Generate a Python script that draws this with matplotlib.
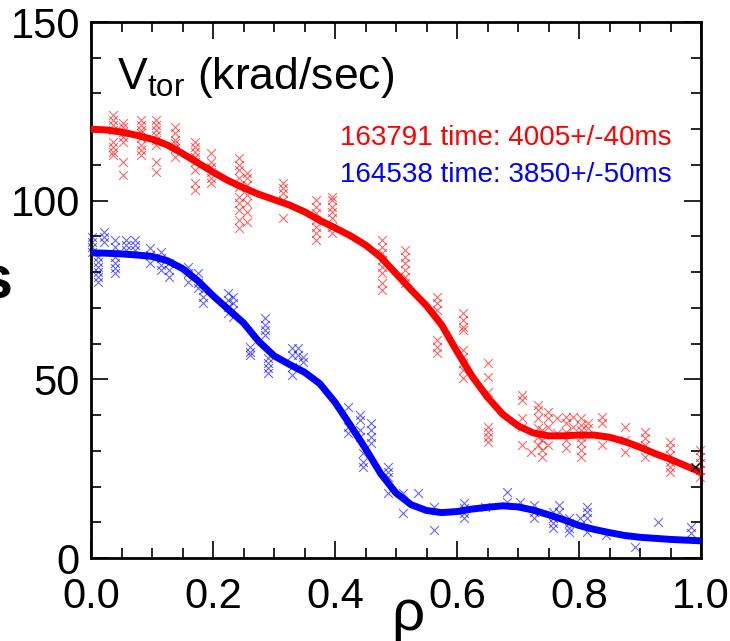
import matplotlib
matplotlib.use("Agg")
import matplotlib.pyplot as plt
from matplotlib.ticker import MultipleLocator, FormatStrFormatter

plt.rcParams['font.family'] = ['Liberation Sans', 'DejaVu Sans']
plt.rcParams['mathtext.fontset'] = 'custom'
plt.rcParams['mathtext.rm'] = 'Liberation Sans'
plt.rcParams['mathtext.it'] = 'Liberation Sans'

# fitted profiles
rho_fit = [0.0, 0.025, 0.05, 0.075, 0.1, 0.125, 0.15, 0.175, 0.2, 0.225,
           0.25, 0.275, 0.3, 0.325, 0.35, 0.375, 0.4, 0.425, 0.45, 0.475,
           0.5, 0.525, 0.55, 0.575, 0.6, 0.625, 0.65, 0.675, 0.7, 0.725,
           0.75, 0.775, 0.8, 0.825, 0.85, 0.875, 0.9, 0.925, 0.95, 0.975, 1.0]
red_fit = [120.0, 119.8, 119.2, 118.3, 117.2, 115.6, 113.2, 110.6, 108.0, 105.6,
           103.6, 101.8, 100.3, 98.8, 96.9, 94.5, 92.4, 90.2, 87.6, 84.2,
           79.6, 75.0, 70.6, 65.2, 57.8, 50.8, 45.0, 40.2, 37.0, 35.0,
           34.2, 34.2, 34.4, 34.4, 33.8, 32.6, 31.0, 29.2, 27.6, 25.8, 24.0]
blue_fit = [85.4, 85.3, 85.1, 84.8, 84.4, 83.2, 81.0, 77.6, 73.4, 69.6,
            65.8, 60.6, 56.6, 54.2, 52.0, 48.8, 43.6, 37.2, 30.6, 23.6,
            18.2, 14.9, 13.3, 12.7, 13.0, 13.7, 14.2, 14.6, 14.3, 13.4,
            12.1, 10.7, 9.1, 8.0, 7.1, 6.3, 5.8, 5.5, 5.2, 5.0, 4.8]

# measured points, grouped by radial channel
red_rho = [0.036, 0.052, 0.082, 0.107, 0.138, 0.170, 0.197, 0.243, 0.256, 0.315,
           0.369, 0.395, 0.477, 0.515, 0.567, 0.61, 0.651, 0.706, 0.722, 0.733,
           0.739, 0.749, 0.764, 0.779, 0.790, 0.803, 0.815, 0.838, 0.875, 0.908,
           0.949, 0.998]
red_v = [[124, 122.6, 121.2, 119.8, 116.4, 115, 113.6, 112.8],
         [121.7, 120.6, 119.2, 117.8, 116.4, 110.8, 107.2],
         [122.6, 121.2, 119.8, 118.9, 117.5, 115.6, 114.2, 112.8],
         [122.6, 121.2, 119.8, 118.4, 117, 115.6, 110.8, 108],
         [120.6, 118.9, 117, 116.1, 114.7, 112.2],
         [116.4, 115, 113.6, 112.2, 110.8, 108.6, 105, 103],
         [113.3, 110.8, 109.4, 108, 106.4, 105],
         [112, 110, 108.6, 106.4, 103.8, 101, 99.4, 97.4, 94.6, 92.4],
         [107.8, 106.4, 104.4, 101.6, 99.4, 96.8, 94],
         [105, 103.6, 102.2, 100.2, 95.2],
         [100.2, 98.2, 96.6, 94.6, 92.6, 91, 89],
         [101, 100.2, 98.2, 96.8, 95.2, 92.6, 91],
         [89, 87, 85.4, 83.4, 81.4, 79.8, 77, 75],
         [86.2, 84.2, 82.6, 80.6, 78.6, 77],
         [73, 71.4, 69.4, 61, 59, 57.4],
         [68.6, 66.6, 64.6, 63.8, 58.2, 56.2, 54.6, 52.6, 50.4],
         [54.6, 50.7, 46.5, 36.7, 35.3, 33.9, 32.5],
         [45.6, 44.2, 39.2, 36.7, 31.6],
         [29.7],
         [42.8, 41.4, 39.2, 36.4, 33.9, 31.6],
         [35.8, 33, 30.2, 28.3],
         [40.9, 39.2, 36.7, 31.6],
         [39.2, 35],
         [39.5, 37.8, 35.3, 33, 30.8],
         [39.5, 36.7],
         [39.2, 37.2, 35.8, 33.9, 32.2, 30.2, 28.3],
         [37.8, 36.4],
         [39.5, 37.8, 31.6],
         [36.7, 33, 29.7],
         [35.3, 33.6, 31.6, 28.3],
         [32.5, 30.8, 28.8, 26.9, 25.5, 24.1],
         [30.2, 28.3, 26.6, 24.6, 22.7]]

blue_rho = [0.002, 0.011, 0.021, 0.039, 0.057, 0.072, 0.097, 0.115, 0.128, 0.159,
            0.175, 0.184, 0.225, 0.233, 0.261, 0.285, 0.290, 0.330, 0.339, 0.348,
            0.421, 0.441, 0.446, 0.459, 0.487, 0.511, 0.536, 0.562, 0.611, 0.646,
            0.682, 0.703, 0.726, 0.757, 0.767, 0.784, 0.802, 0.813, 0.844, 0.892,
            0.930, 0.983]
blue_v = [[89.8, 88.4, 87, 85.6],
          [84.2, 82.8, 81.4, 80, 78.6, 77.2],
          [91.2, 89.8, 88.4],
          [89, 87, 84.2, 82.6, 81.2, 79.8],
          [89, 87.6, 86.2],
          [89, 87.6, 86.2],
          [86.8, 84.8, 82.6],
          [85.6, 84, 82, 80.6],
          [82.6, 80.6, 78.6],
          [81.4, 79.8, 77.2],
          [79.8, 77, 75.6],
          [75, 73, 71.4],
          [74.2, 72.2, 70.2, 68.6],
          [73, 71.4, 69.4, 67.4],
          [59, 57.7, 56.8],
          [67.2, 65.2, 63.8, 62.4],
          [56, 54.6, 53.2, 51.8],
          [58.8, 56.8, 53.5, 51.2],
          [58.8, 56.8],
          [56.3, 54.9],
          [42.3, 36.7, 35],
          [40, 38.6, 35.8, 33.9],
          [29.4, 26.9, 25.5],
          [37.8, 35.8, 33.9, 32.2],
          [25.5, 24.1, 22.7, 18.2],
          [18.2, 12.6],
          [18.2],
          [14.3, 7.8],
          [15.4, 14, 12.6, 11.2],
          [14.3],
          [18.5, 15.7],
          [15.7],
          [14.8, 12.9, 11.2],
          [12.9, 11.2, 9.8, 8.4],
          [14.8, 12.9],
          [11.2, 9.8, 8.4, 7.3],
          [11.2],
          [14.3, 12.9, 11.2, 7.3],
          [6.4],
          [3.1],
          [10],
          [8.7, 7]]

odd_rho = [0.99]
odd_v = [25.5]

labels = ['163791 time: 4005+/-40ms', '164538 time: 3850+/-50ms']


def flatten(rhos, vals):
    xs, ys = [], []
    for r, vs in zip(rhos, vals):
        for v in vs:
            xs.append(r)
            ys.append(v)
    return xs, ys


fig = plt.figure(figsize=(7.3, 6.41), dpi=100)
ax = fig.add_axes([91/730, 1 - 558/641, 610/730, 536/641])

rx, ry = flatten(red_rho, red_v)
bx, by = flatten(blue_rho, blue_v)
ax.scatter(rx, ry, marker='x', s=40, linewidths=0.8, color='red', alpha=0.6, clip_on=False, zorder=2)
ax.scatter(bx, by, marker='x', s=40, linewidths=0.8, color='blue', alpha=0.6, clip_on=False, zorder=2)
ax.scatter(odd_rho, odd_v, marker='x', s=35, linewidths=1.0, color='black', clip_on=False, zorder=4)

ax.plot(rho_fit, red_fit, color='red', lw=5, zorder=3)
ax.plot(rho_fit, blue_fit, color='blue', lw=5, zorder=3)

ax.set_xlim(0, 1)
ax.set_ylim(0, 150)
ax.xaxis.set_major_locator(MultipleLocator(0.2))
ax.xaxis.set_minor_locator(MultipleLocator(0.05))
ax.yaxis.set_major_locator(MultipleLocator(50))
ax.yaxis.set_minor_locator(MultipleLocator(10))
ax.xaxis.set_major_formatter(FormatStrFormatter('%.1f'))
ax.tick_params(which='both', direction='in', top=True, right=True, width=1.2, labelsize=30)
ax.tick_params(which='major', length=12)
ax.tick_params(which='minor', length=7)
ax.tick_params(axis='x', pad=14)
ax.tick_params(axis='y', pad=8)
for sp in ax.spines.values():
    sp.set_linewidth(2)

ax.text(0.043, 131.3, r'V$_{\mathrm{tor}}$ (krad/sec)', fontsize=32, va='baseline')
ax.text(0.408, 115.6, labels[0], color='red', fontsize=20, va='baseline')
ax.text(0.408, 105.2, labels[1], color='blue', fontsize=20, va='baseline')

# x label sits among the tick labels; y label is cropped at the left edge
fig.text(408/730, 1 - 615/641, 'ρ', fontsize=42, ha='center', va='center')
fig.text(13/730, 1 - 283/641, 's', fontsize=44, fontweight='bold', ha='right', va='center')

fig.savefig('out.png', dpi=100)
